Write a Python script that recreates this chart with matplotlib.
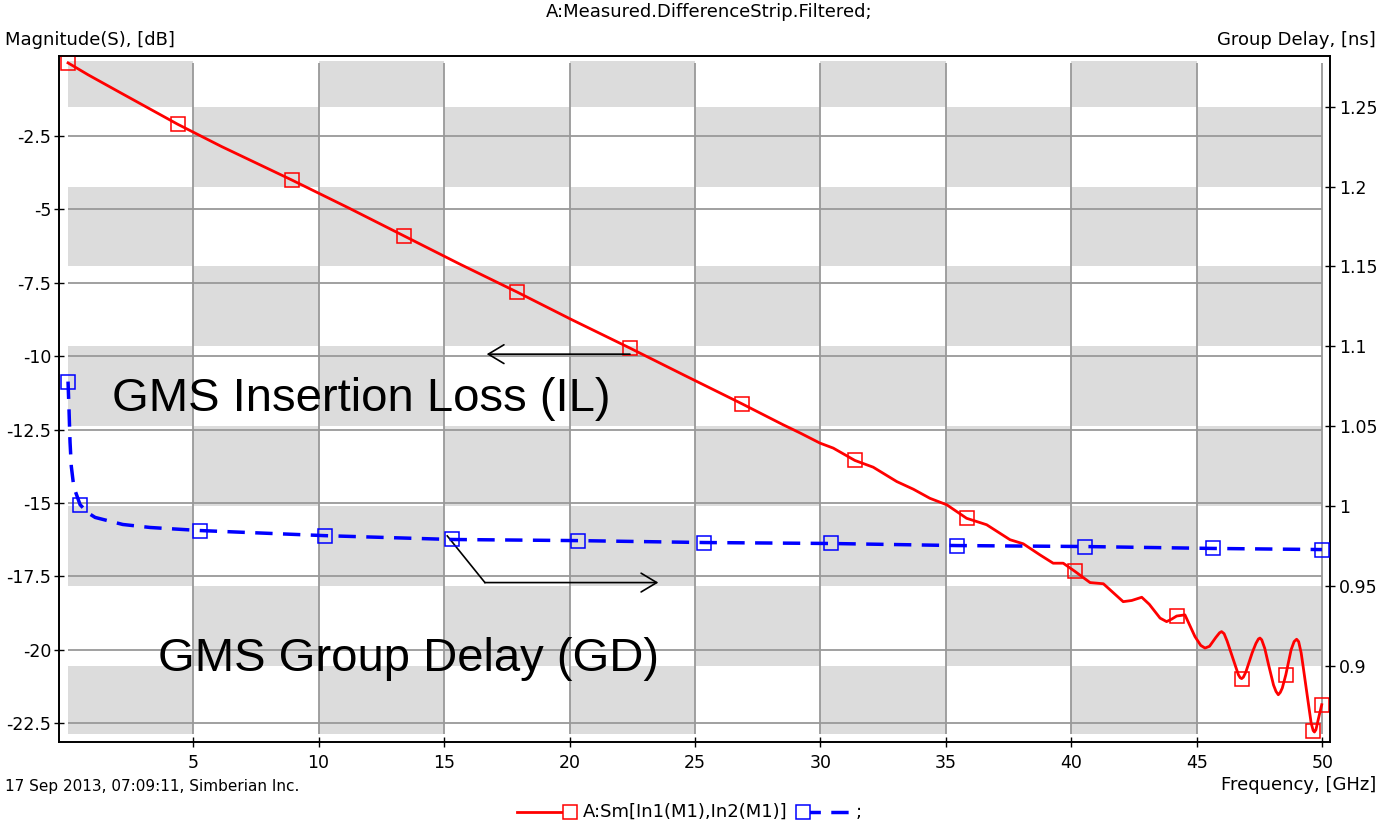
import numpy as np
import matplotlib
matplotlib.use("Agg")
import matplotlib.pyplot as plt
from matplotlib.patches import Rectangle
from matplotlib.lines import Line2D

plt.rcParams["font.family"] = ["DejaVu Sans"]

# ==== data ====
# insertion loss, dB
il_freq = [0.02, 0.83, 2.16, 4.39, 6.14, 8.94, 11.2, 13.4, 15.6, 17.9, 20.1, 22.4,
           24.6, 26.87, 28.5, 29.2, 29.98, 30.51, 31.37, 32.10, 33.04, 33.70, 34.36,
           35.03, 35.82, 36.62, 37.55, 38.08, 38.75, 39.27, 39.67, 40.14, 40.74,
           41.27, 42.06, 42.40, 42.80, 43.1, 43.53, 43.79, 44.0, 44.19, 44.52, 44.92, 45.15,
           45.32, 45.5, 45.75, 45.9, 45.98, 46.08, 46.2, 46.45, 46.65, 46.72, 46.78, 46.85,
           46.95, 47.2, 47.35, 47.45, 47.51, 47.58, 47.7, 47.85, 48.05, 48.15, 48.24, 48.32,
           48.4, 48.54, 48.75, 48.87, 48.97, 49.05, 49.15, 49.23, 49.4, 49.55, 49.63, 49.68,
           49.74, 49.83, 49.97]
il_db = [-0.01, -0.42, -1.05, -2.10, -2.86, -4.00, -4.95, -5.90, -6.85, -7.81, -8.76, -9.72,
         -10.66, -11.62, -12.33, -12.62, -12.96, -13.13, -13.55, -13.78, -14.27, -14.53, -14.84,
         -15.06, -15.52, -15.74, -16.25, -16.39, -16.77, -17.05, -17.05, -17.33, -17.71,
         -17.75, -18.36, -18.32, -18.21, -18.45, -18.92, -19.04, -18.95, -18.85, -18.81, -19.55, -19.85,
         -19.94, -19.88, -19.58, -19.42, -19.38, -19.45, -19.70, -20.34, -20.85, -20.95, -20.98, -20.93,
         -20.75, -20.10, -19.78, -19.63, -19.60, -19.66, -19.95, -20.50, -21.20, -21.42, -21.53, -21.45,
         -21.30, -20.85, -20.00, -19.72, -19.64, -19.72, -20.10, -20.57, -21.60, -22.50, -22.75, -22.80,
         -22.72, -22.38, -21.87]
il_marker_freq = [0.02, 4.39, 8.94, 13.4, 17.9, 22.4, 26.87, 31.37, 35.82, 40.14,
                  44.19, 46.78, 48.54, 49.63, 49.97]

# group delay, ns
gd_freq = [0.02, 0.06, 0.1, 0.15, 0.25, 0.5, 0.8, 1.1, 2.2, 3.3, 5.28, 10.26, 15.32,
           20.34, 25.36, 30.42, 35.44, 40.54, 45.64, 49.98]
gd_ns = [1.078, 1.06, 1.04, 1.025, 1.012, 1.001, 0.996, 0.993, 0.9886, 0.9867, 0.9848,
         0.9816, 0.9792, 0.9785, 0.9773, 0.9767, 0.9754, 0.9748, 0.9736, 0.9729]
gd_marker_freq = [0.02, 0.5, 5.28, 10.26, 15.32, 20.34, 25.36, 30.42, 35.44, 40.54,
                  45.64, 49.98]

freq_ticks = [5, 10, 15, 20, 25, 30, 35, 40, 45, 50]
db_ticks = [-2.5, -5, -7.5, -10, -12.5, -15, -17.5, -20, -22.5]
db_labels = ["-2.5", "-5", "-7.5", "-10", "-12.5", "-15", "-17.5", "-20", "-22.5"]
gd_ticks = [0.9, 0.95, 1.0, 1.05, 1.1, 1.15, 1.2, 1.25]
gd_labels = ["0.9", "0.95", "1", "1.05", "1.1", "1.15", "1.2", "1.25"]

# checkerboard edges (5 GHz columns x 0.05 ns rows)
band_x = [0, 5, 10, 15, 20, 25, 30, 35, 40, 45, 50]
band_y = [0.8575, 0.9, 0.95, 1.0, 1.05, 1.1, 1.15, 1.2, 1.25, 1.2784]

# ==== figure ====
W, H = 1379, 826
fig = plt.figure(figsize=(W / 100, H / 100), dpi=100)
ax = fig.add_axes([59 / W, 1 - 742 / H, (1330 - 59) / W, (742 - 56) / H])
ax2 = ax.twinx()

ax.set_xlim(-0.34, 50.30)
ax.set_ylim(-23.14, 0.225)
ax2.set_ylim(0.8525, 1.2817)

# shading, drawn on the dB axes using ns coordinates
nrow = len(band_y) - 1
for c in range(len(band_x) - 1):
    for r in range(nrow):
        row_from_top = nrow - 1 - r
        if (row_from_top + c) % 2 == 0:
            ax.add_patch(Rectangle((band_x[c], band_y[r]), band_x[c + 1] - band_x[c],
                                   band_y[r + 1] - band_y[r], transform=ax2.transData,
                                   facecolor="#dcdcdc", edgecolor="none", zorder=0))

grid_kw = dict(colors="#999999", linewidth=1.3, zorder=1)
ax.hlines(db_ticks, band_x[0], band_x[-1], **grid_kw)
ax.vlines(freq_ticks, -22.86, 0.0, **grid_kw)

# curves
ax.plot(il_freq, il_db, color="#ff0000", lw=2.0, zorder=3)
ax.plot(il_marker_freq, np.interp(il_marker_freq, il_freq, il_db), ls="none",
        marker="s", ms=10, mfc="none", mec="#ff0000", mew=1.1, zorder=4)

(gd_line,) = ax2.plot(gd_freq, gd_ns, color="#0000ff", lw=2.5, zorder=3)
gd_line.set_dashes([5, 3])
ax2.plot(gd_marker_freq, np.interp(gd_marker_freq, gd_freq, gd_ns), ls="none",
         marker="s", ms=10, mfc="none", mec="#0000ff", mew=1.1, zorder=4)

# ticks / spines
ax.set_xticks(freq_ticks)
ax.set_xticklabels([str(f) for f in freq_ticks])
ax.set_yticks(db_ticks)
ax.set_yticklabels(db_labels)
ax2.set_yticks(gd_ticks)
ax2.set_yticklabels(gd_labels)
for a in (ax, ax2):
    a.tick_params(direction="inout", length=7, width=1.0, labelsize=12.5, color="black")
    for s in a.spines.values():
        s.set_linewidth(1.2)
ax.tick_params(axis="y", pad=2)
ax.tick_params(axis="x", pad=5)
ax2.tick_params(axis="y", pad=3)

# annotations
big = dict(family=["Liberation Sans", "DejaVu Sans"], fontsize=34, color="black")
ax.text(1.77, -11.86, "GMS Insertion Loss (IL)", va="baseline", ha="left", zorder=6, **big)
ax.text(3.61, -20.71, "GMS Group Delay (GD)", va="baseline", ha="left", zorder=6, **big)

arr = dict(arrowstyle="->,head_length=0.75,head_width=0.45", color="black", lw=1.2,
           mutation_scale=15, shrinkA=0, shrinkB=0)
ax.annotate("", xy=(16.70, -9.93), xytext=(22.41, -9.93), arrowprops=arr, zorder=6)
ax.plot([15.13, 16.63], [-16.12, -17.71], color="black", lw=1.2, zorder=6)
ax.annotate("", xy=(23.54, -17.71), xytext=(16.63, -17.71), arrowprops=arr, zorder=6)

# header / footer texts
small = 13
fig.text(709 / W, 1 - 12 / H, "A:Measured.DifferenceStrip.Filtered;", ha="center",
         va="center", fontsize=small)
fig.text(5 / W, 1 - 40 / H, "Magnitude(S), [dB]", ha="left", va="center", fontsize=small)
fig.text(1376 / W, 1 - 40 / H, "Group Delay, [ns]", ha="right", va="center", fontsize=small)
fig.text(1376 / W, 1 - 785 / H, "Frequency, [GHz]", ha="right", va="center", fontsize=small)
fig.text(5 / W, 1 - 787 / H, "17 Sep 2013, 07:09:11, Simberian Inc.", ha="left",
         va="center", fontsize=11)

# legend row
ly = 1 - 812 / H
fig.add_artist(Line2D([517 / W, 570 / W], [ly, ly], transform=fig.transFigure,
                      color="#ff0000", lw=2.0, marker="s", ms=10, mfc="white",
                      mec="#ff0000", mew=1.1, markevery=[1]))
fig.text(583 / W, ly, "A:Sm[In1(M1),In2(M1)]", ha="left", va="center", fontsize=small)
leg_gd = Line2D([803 / W, 853 / W], [ly, ly], transform=fig.transFigure,
                color="#0000ff", lw=2.5, marker="s", ms=10, mfc="white",
                mec="#0000ff", mew=1.1, markevery=[0])
leg_gd.set_dashes([5, 3])
fig.add_artist(leg_gd)
fig.text(856 / W, ly, ";", ha="left", va="center", fontsize=small)

fig.savefig("out.png", dpi=100)
